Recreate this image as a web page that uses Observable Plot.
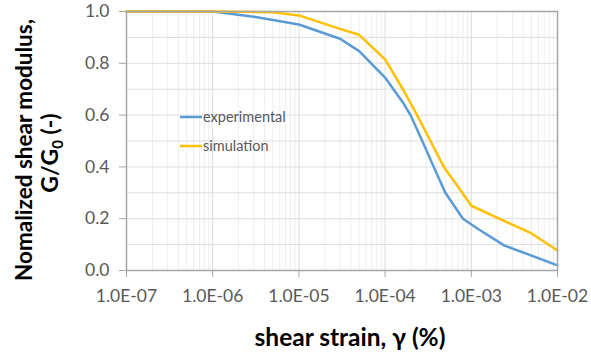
<!DOCTYPE html>
<html><head><meta charset="utf-8">
<script src="https://cdn.jsdelivr.net/npm/d3@7"></script>
<script src="https://cdn.jsdelivr.net/npm/@observablehq/plot@0.6"></script>
<style>
body{margin:0;background:#fff;}
#chart{width:591px;height:352px;}
</style></head><body><div id="chart"></div>
<script>
// experimental series
const strainExp = [1e-7, 1e-6, 3e-6, 1e-5, 3e-5, 5e-5, 1e-4, 1.6e-4, 1.97e-4, 2.7e-4, 3.67e-4, 5e-4, 8e-4, 1.2e-3, 2.4e-3, 1e-2];
const gExp      = [1.0,  1.0,  0.98, 0.95, 0.895, 0.847, 0.745, 0.65, 0.6, 0.5, 0.4, 0.3, 0.20, 0.16, 0.097, 0.02];
// simulation series
const strainSim = [1e-7, 1e-6, 5e-6, 1e-5, 3e-5, 5e-5, 1e-4, 1.64e-4, 2.35e-4, 3.36e-4, 4.8e-4, 7.5e-4, 1e-3, 5e-3, 1e-2];
const gSim      = [1.0,  1.0,  0.997, 0.985, 0.933, 0.91, 0.815, 0.695, 0.6, 0.5, 0.4, 0.31, 0.25, 0.143, 0.077];
const seriesNames = ["experimental", "simulation"];
const seriesColors = ["#5B9BD5", "#FFC000"];
// ticks
const xTicks = [1e-7, 1e-6, 1e-5, 1e-4, 1e-3, 1e-2];
const xTickLabels = ["1.0E-07", "1.0E-06", "1.0E-05", "1.0E-04", "1.0E-03", "1.0E-02"];
const yTicks = [0, 0.2, 0.4, 0.6, 0.8, 1.0];
const yTickLabels = ["0.0", "0.2", "0.4", "0.6", "0.8", "1.0"];
const yGrid = [0.1, 0.2, 0.3, 0.4, 0.5, 0.6, 0.7, 0.8, 0.9];
const minorX = d3.range(-7, -2).flatMap(e => d3.range(2, 10).map(m => m * Math.pow(10, e)));

const rows = [
  ...strainExp.map((x, i) => ({x, y: gExp[i], s: seriesNames[0]})),
  ...strainSim.map((x, i) => ({x, y: gSim[i], s: seriesNames[1]}))
];

const plot = Plot.plot({
  width: 591, height: 352,
  marginLeft: 126, marginRight: 34, marginTop: 11, marginBottom: 82,
  x: {type: "log", domain: [1e-7, 1e-2]},
  y: {domain: [0, 1]},
  color: {domain: seriesNames, range: seriesColors},
  style: {fontFamily: "Lato, sans-serif", fontSize: "17.5px", color: "#595959", background: "#fff"},
  marks: [
    Plot.ruleX(minorX, {stroke: "#ededed"}),
    Plot.ruleX(xTicks.slice(1, -1), {stroke: "#dcdcdc"}),
    Plot.ruleY(yGrid, {stroke: "#dedede"}),
    Plot.axisX({ticks: xTicks, tickFormat: d => xTickLabels[xTicks.indexOf(d)], tickSize: 7, tickPadding: 12, stroke: "#a6a6a6", label: null}),
    Plot.axisY({ticks: yTicks, tickFormat: d => yTickLabels[yTicks.indexOf(d)], tickSize: 7, tickPadding: 10, stroke: "#a6a6a6", label: null}),
    Plot.line(rows, {x: "x", y: "y", stroke: "s", z: "s", strokeWidth: 2.5}),
    Plot.frame({stroke: "#a6a6a6", strokeWidth: 1.5})
  ]
});
document.getElementById("chart").appendChild(plot);

const svg = d3.select(plot);
// x title
svg.append("text").attr("x", 350).attr("y", 346).attr("text-anchor", "middle")
  .attr("font-family", "Lato, sans-serif").attr("font-weight", "bold").attr("font-size", 24.5).attr("fill", "#000")
  .text("shear strain, \u03B3 (%)");
// y title
const yt = svg.append("g").attr("transform", "translate(32,150) rotate(-90)")
  .attr("font-family", "Lato, sans-serif").attr("font-weight", "bold").attr("font-size", 22.5).attr("fill", "#000")
  .attr("text-anchor", "middle");
yt.append("text").attr("x", 0).attr("y", 0).text("Nomalized shear modulus,");
const t2 = yt.append("text").attr("x", -3).attr("y", 26).attr("font-size", 23);
t2.append("tspan").text("G/G");
t2.append("tspan").attr("font-size", 15).attr("dy", 5).text("0");
t2.append("tspan").attr("dy", -5).text(" (-)");
// legend
const lg = svg.append("g").attr("font-family", "Lato, sans-serif").attr("font-size", 14.5).attr("fill", "#595959").attr("text-anchor", "start");
seriesNames.forEach((n, i) => {
  const y = 117 + i * 29;
  lg.append("line").attr("x1", 180).attr("x2", 202).attr("y1", y).attr("y2", y).attr("stroke", seriesColors[i]).attr("stroke-width", 2.5);
  lg.append("text").attr("x", 203).attr("y", y + 5).text(n);
});
</script></body></html>
